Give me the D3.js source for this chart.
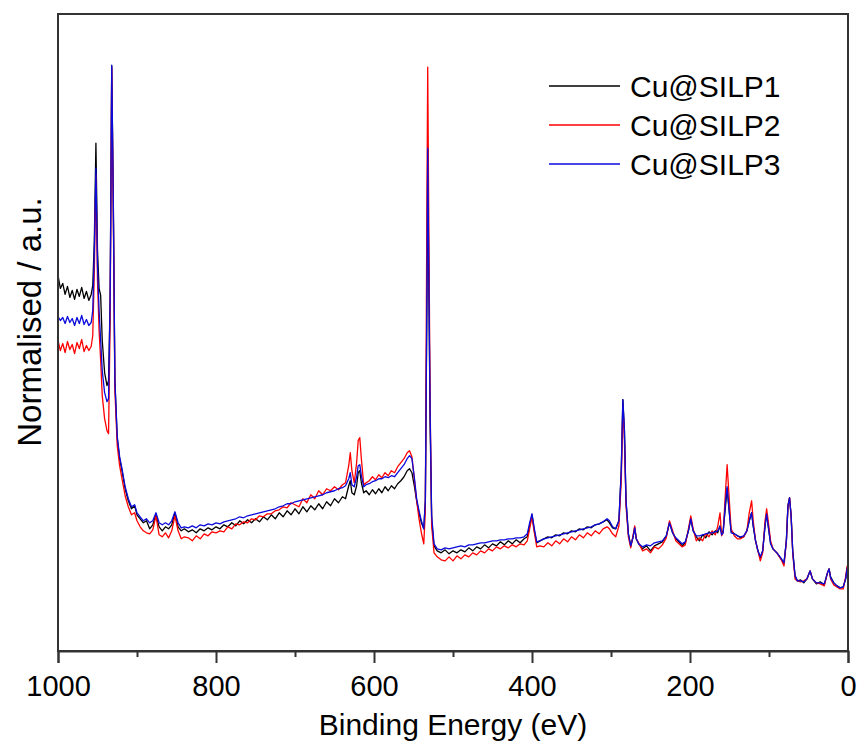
<!DOCTYPE html>
<html>
<head>
<meta charset="utf-8">
<script src="https://cdn.jsdelivr.net/npm/d3@7"></script>
<style>
  body { margin: 0; background: #fff; }
  text { font-family: Arial, "Liberation Sans", sans-serif; fill: #000; }
  .line { fill: none; stroke-width: 1.3; stroke-linejoin: round; }
</style>
</head>
<body>
<script>
// Binding energy (eV) and normalised intensities (a.u.)
var energy = [1000, 997, 994, 991, 988, 985, 982, 979, 976, 973, 970, 967, 964, 961, 958, 956, 954, 952, 950, 948,
  946, 944, 941, 938, 936, 934, 932, 930, 928, 925, 922, 919, 915, 911, 907, 903, 900, 896, 892, 888,
  884, 880, 876, 872, 868, 864, 860, 856, 852, 848, 844, 840, 835, 830, 825, 820, 815, 810, 805, 800,
  795, 790, 785, 780, 775, 770, 765, 760, 755, 750, 745, 740, 735, 730, 725, 720, 715, 710, 705, 700,
  695, 690, 685, 680, 675, 670, 665, 660, 655, 650, 645, 640, 636, 632, 630, 628, 625, 622, 620, 618,
  616, 613, 610, 606, 602, 598, 594, 590, 586, 582, 578, 574, 570, 566, 562, 558, 555, 552, 549, 546,
  543, 540, 537, 535, 533, 532, 531, 529, 527, 524, 520, 515, 510, 505, 500, 495, 490, 485, 480, 475,
  470, 465, 460, 455, 450, 445, 440, 435, 430, 425, 420, 415, 410, 406, 403, 400, 397, 394, 390, 385,
  380, 375, 370, 365, 360, 355, 350, 345, 340, 335, 330, 325, 320, 315, 310, 305, 302, 298, 294, 290,
  287, 285, 283, 281, 278, 275, 272, 270, 268, 265, 260, 255, 250, 245, 240, 235, 230, 226, 222, 218,
  214, 210, 206, 202, 199, 196, 192, 188, 184, 180, 176, 172, 168, 165, 162, 160, 158, 155, 153, 151,
  148, 144, 140, 136, 132, 128, 125, 122, 120, 117, 114, 111, 108, 105, 103, 101, 98, 95, 90, 85,
  81, 78, 76, 74, 72, 70, 67, 64, 60, 56, 52, 48, 45, 40, 35, 30, 26, 24, 22, 18,
  14, 10, 6, 3, 1, 0];

var silp1 = [375, 362, 367, 356, 364, 353, 360, 351, 361, 354, 363, 352, 359, 350, 356, 365, 410, 507, 400, 362,
  355, 310, 278, 265, 270, 350, 584, 450, 270, 212, 192, 180, 162, 150, 142, 145, 136, 132, 128, 130,
  122, 126, 136, 124, 120, 124, 122, 126, 138, 124, 120, 122, 119, 121, 118, 122, 120, 123, 121, 124,
  122, 126, 124, 128, 125, 130, 127, 131, 128, 132, 129, 134, 131, 136, 132, 138, 134, 140, 136, 142,
  137, 144, 139, 145, 141, 147, 142, 149, 145, 152, 148, 154, 152, 165, 170, 158, 156, 165, 178, 180,
  168, 158, 160, 156, 161, 157, 162, 158, 164, 160, 165, 162, 167, 170, 174, 180, 182, 178, 165, 150,
  138, 128, 122, 150, 350, 500, 400, 230, 130, 105, 100, 98, 101, 97, 100, 98, 101, 99, 103, 100,
  104, 102, 106, 103, 107, 105, 109, 106, 110, 107, 111, 108, 112, 114, 125, 136, 120, 108, 110, 112,
  114, 113, 116, 115, 118, 117, 120, 119, 122, 121, 124, 123, 126, 127, 129, 131, 128, 123, 122, 130,
  180, 251, 220, 150, 117, 105, 114, 123, 112, 107, 102, 105, 100, 105, 107, 109, 115, 128, 118, 112,
  109, 105, 108, 120, 132, 120, 114, 110, 116, 113, 119, 116, 120, 118, 125, 118, 120, 145, 162, 145,
  120, 117, 115, 113, 114, 120, 130, 138, 125, 110, 100, 93, 100, 125, 137, 125, 108, 102, 98, 92,
  88, 110, 145, 153, 135, 100, 75, 70, 71, 68, 72, 80, 72, 67, 69, 66, 78, 82, 74, 68,
  65, 63, 64, 72, 83, 62];

var silp2 = [310, 300, 307, 298, 309, 301, 306, 297, 308, 302, 311, 299, 305, 300, 304, 315, 380, 475, 370, 320,
  290, 255, 232, 220, 217, 330, 582, 440, 260, 205, 185, 172, 155, 144, 136, 138, 130, 124, 120, 118,
  117, 121, 135, 116, 114, 118, 113, 120, 135, 120, 112, 114, 113, 110, 115, 112, 117, 115, 119, 118,
  120, 119, 124, 122, 127, 126, 129, 128, 132, 131, 135, 134, 137, 137, 140, 141, 144, 143, 148, 146,
  144, 152, 148, 156, 152, 160, 156, 162, 160, 164, 161, 166, 168, 185, 198, 180, 168, 188, 210, 213,
  192, 166, 168, 170, 174, 171, 176, 173, 178, 175, 180, 178, 184, 188, 192, 198, 200, 194, 172, 150,
  132, 118, 107, 140, 450, 583, 470, 250, 125, 98, 94, 91, 90, 94, 90, 95, 92, 96, 94, 98,
  96, 100, 98, 102, 100, 104, 102, 105, 103, 106, 104, 107, 106, 110, 122, 134, 118, 104, 105, 104,
  108, 105, 110, 107, 112, 109, 114, 111, 116, 113, 118, 115, 120, 117, 122, 124, 122, 117, 114, 125,
  170, 245, 210, 145, 114, 103, 116, 125, 112, 108, 100, 102, 98, 104, 102, 106, 113, 130, 120, 110,
  107, 104, 106, 122, 135, 122, 110, 113, 110, 117, 114, 120, 116, 124, 138, 115, 118, 160, 186, 160,
  122, 115, 112, 112, 114, 120, 138, 150, 130, 110, 100, 90, 98, 130, 142, 130, 110, 102, 98, 92,
  85, 110, 145, 153, 135, 98, 72, 70, 69, 70, 72, 80, 72, 68, 67, 65, 78, 82, 72, 66,
  64, 62, 62, 74, 85, 62];

var silp3 = [334, 330, 333, 327, 334, 328, 332, 325, 333, 327, 335, 326, 331, 325, 328, 340, 400, 482, 385, 340,
  310, 280, 258, 249, 252, 350, 585, 450, 270, 214, 194, 182, 164, 152, 144, 146, 138, 134, 130, 132,
  128, 130, 138, 128, 126, 128, 126, 130, 139, 128, 123, 124, 123, 125, 123, 126, 125, 127, 126, 128,
  127, 129, 130, 131, 132, 134, 133, 135, 136, 137, 138, 139, 140, 141, 142, 144, 145, 147, 147, 149,
  150, 151, 152, 153, 154, 155, 156, 158, 159, 160, 162, 163, 165, 172, 178, 166, 164, 174, 185, 186,
  175, 164, 166, 167, 169, 170, 172, 172, 174, 173, 175, 174, 178, 182, 186, 192, 195, 192, 174, 152,
  140, 130, 122, 150, 360, 502, 410, 240, 135, 107, 102, 101, 103, 102, 103, 104, 105, 104, 106, 106,
  107, 108, 108, 109, 110, 110, 111, 111, 112, 112, 113, 113, 114, 117, 128, 137, 122, 109, 110, 112,
  113, 114, 115, 116, 117, 118, 119, 120, 121, 122, 123, 124, 126, 127, 129, 132, 130, 124, 122, 130,
  180, 251, 220, 150, 117, 105, 114, 123, 112, 107, 104, 106, 105, 108, 109, 110, 115, 128, 118, 113,
  110, 107, 109, 120, 132, 120, 115, 115, 116, 117, 118, 118, 119, 120, 124, 116, 118, 150, 164, 145,
  118, 117, 115, 114, 115, 120, 130, 138, 125, 110, 100, 94, 100, 125, 137, 125, 107, 102, 98, 93,
  88, 110, 145, 153, 135, 100, 75, 70, 70, 69, 72, 80, 72, 68, 68, 67, 78, 82, 73, 68,
  65, 63, 64, 72, 83, 62];

var seriesNames = ["Cu@SILP1", "Cu@SILP2", "Cu@SILP3"];
var seriesColors = ["#000000", "#ff0000", "#0a0adc"];
var majorTicks = [1000, 800, 600, 400, 200, 0];
var minorTicks = [900, 700, 500, 300, 100];

// Set the dimensions of the canvas / graph
var svgWidth = 863, svgHeight = 749;
var margin = { top: 14, right: 15, bottom: 98, left: 58 },
    width = svgWidth - margin.left - margin.right,
    height = svgHeight - margin.top - margin.bottom;

// Set the ranges (binding energy runs right to left)
var x = d3.scaleLinear().domain([1000, 0]).range([0, width]);
var y = d3.scaleLinear().domain([0, 636]).range([height, 0]);

var svg = d3.select("body")
    .append("svg")
    .attr("width", svgWidth)
    .attr("height", svgHeight)
    .append("g")
    .attr("transform", "translate(" + margin.left + "," + margin.top + ")");

var allSeries = [silp1, silp2, silp3].map(function (vals, i) {
    return {
        name: seriesNames[i],
        color: seriesColors[i],
        values: energy.map(function (e, j) { return { e: e, v: vals[j] }; })
    };
});

var line = d3.line()
    .x(function (d) { return x(d.e); })
    .y(function (d) { return y(d.v); });

// Add the spectra
svg.selectAll(".line")
    .data(allSeries)
    .enter()
    .append("path")
    .attr("class", "line")
    .attr("d", function (d) { return line(d.values); })
    .style("stroke", function (d) { return d.color; });

// Frame
svg.append("rect")
    .attr("width", width)
    .attr("height", height)
    .attr("fill", "none")
    .attr("stroke", "#333")
    .attr("stroke-width", 2);

// Minor ticks
svg.append("g")
    .attr("transform", "translate(0," + height + ")")
    .call(d3.axisBottom(x).tickValues(minorTicks).tickSize(6).tickFormat(""))
    .call(function (g) { g.select(".domain").remove(); })
    .selectAll("line").attr("stroke", "#333").attr("stroke-width", 2);

// Major ticks and labels
var xAxis = svg.append("g")
    .attr("transform", "translate(0," + height + ")")
    .call(d3.axisBottom(x).tickValues(majorTicks).tickSize(12).tickPadding(12).tickFormat(d3.format("d")));
xAxis.select(".domain").attr("stroke", "#333").attr("stroke-width", 2);
xAxis.selectAll("line").attr("stroke", "#333").attr("stroke-width", 2);
xAxis.selectAll("text")
    .style("font-family", "Arial, 'Liberation Sans', sans-serif")
    .style("font-size", "29px")
    .attr("fill", "#000");

// Axis titles
svg.append("text")
    .attr("x", width / 2)
    .attr("y", 721)
    .style("text-anchor", "middle")
    .style("font-size", "30px")
    .text("Binding Energy (eV)");

svg.append("text")
    .attr("transform", "rotate(-90)")
    .attr("x", -308)
    .attr("y", -17)
    .style("text-anchor", "middle")
    .style("font-size", "33px")
    .text("Normalised / a.u.");

// Legend
var legend = svg.selectAll(".legend")
    .data(allSeries)
    .enter()
    .append("g")
    .attr("class", "legend")
    .attr("transform", function (d, i) { return "translate(491," + (72 + i * 39) + ")"; });

legend.append("line")
    .attr("x1", 0).attr("x2", 71)
    .attr("stroke-width", 1.5)
    .attr("stroke", function (d) { return d.color; });

legend.append("text")
    .attr("x", 81)
    .attr("y", 11)
    .style("font-size", "30px")
    .text(function (d) { return d.name; });
</script>
</body>
</html>
